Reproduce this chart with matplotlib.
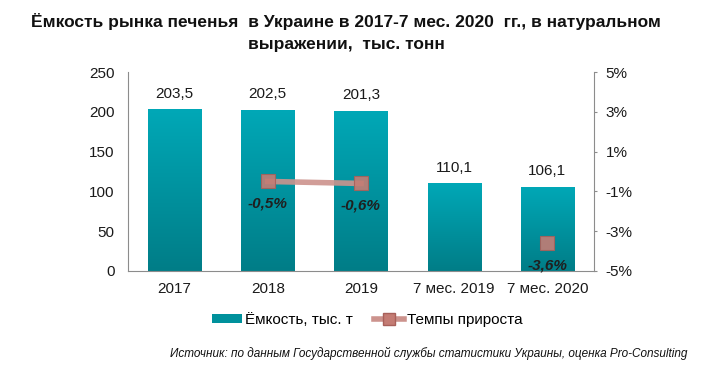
import matplotlib
matplotlib.use("Agg")
import matplotlib.pyplot as plt
import numpy as np
from matplotlib.colors import LinearSegmentedColormap
from matplotlib.patches import Patch
from matplotlib.lines import Line2D

plt.rcParams['font.family'] = ['Liberation Sans', 'DejaVu Sans']

categories = ["2017", "2018", "2019", "7 мес. 2019", "7 мес. 2020"]
capacity = [203.5, 202.5, 201.3, 110.1, 106.1]
capacity_labels = ["203,5", "202,5", "201,3", "110,1", "106,1"]
growth = [np.nan, -0.5, -0.6, np.nan, -3.6]
growth_labels = ["", "-0,5%", "-0,6%", "", "-3,6%"]
left_ticks = [0, 50, 100, 150, 200, 250]
right_ticks = [-5, -3, -1, 1, 3, 5]
right_tick_labels = ["-5%", "-3%", "-1%", "1%", "3%", "5%"]

fig = plt.figure(figsize=(7.1, 3.81), dpi=100)
ax = fig.add_axes([128/710, 1-271/381, (594-128)/710, (271-72)/381])
ax2 = ax.twinx()

x = np.arange(len(categories))
bars = ax.bar(x, capacity, width=0.57, color="#009AA6", zorder=2, label="Ёмкость, тыс. т")

cmap = LinearSegmentedColormap.from_list("teal", ["#00A8B7", "#007D87"])
grad = np.linspace(0, 1, 256).reshape(-1, 1)
for b in bars:
    bx, by = b.get_x(), b.get_y()
    w, h = b.get_width(), b.get_height()
    im = ax.imshow(grad, extent=[bx, bx + w, by, by + h], aspect="auto",
                   cmap=cmap, origin="upper", zorder=2.5)
    im.set_clip_path(b)
    b.set_facecolor("none")

for xi, v, lab in zip(x, capacity, capacity_labels):
    ax.annotate(lab, (xi, v), xytext=(0, 6), textcoords="offset points",
                ha="center", va="bottom", fontsize=11, color="#1a1a1a")

ax.set_xlim(-0.5, len(categories) - 0.5)
ax.set_ylim(0, 250)
ax.set_yticks(left_ticks)
ax.set_yticklabels([str(t) for t in left_ticks])
ax.set_xticks(x)
ax.set_xticklabels(categories)
ax.tick_params(axis="y", length=0, pad=9.5, labelsize=11, colors="#1a1a1a")
ax.tick_params(axis="x", length=0, pad=8, labelsize=11, colors="#1a1a1a")
for s in ["top", "right"]:
    ax.spines[s].set_visible(False)
for s in ["left", "bottom"]:
    ax.spines[s].set_color("#8c8c8c")

ax2.plot(x, growth, color="#CC938D", lw=4, alpha=0.9, marker="s", markersize=10,
         markerfacecolor="#C47C74", markeredgecolor="#A8605A", markeredgewidth=0.8,
         zorder=5, label="Темпы прироста")
for xi, v, lab in zip(x, growth, growth_labels):
    if lab:
        ax2.annotate(lab, (xi, v), xytext=(0, -11), textcoords="offset points",
                     ha="center", va="top", fontsize=11, fontweight="bold",
                     fontstyle="italic", color="#1f1f1f")
ax2.set_ylim(-5, 5)
ax2.set_yticks(right_ticks)
ax2.set_yticklabels(right_tick_labels)
ax2.tick_params(axis="y", length=2.5, pad=6, labelsize=11, colors="#1a1a1a", color="#8c8c8c")
for s in ["top", "left", "bottom"]:
    ax2.spines[s].set_visible(False)
ax2.spines["right"].set_color("#8c8c8c")
ax.set_zorder(1)
ax2.set_zorder(2)
ax2.patch.set_visible(False)

fig.text(346/710, 1-21/381, "Ёмкость рынка печенья  в Украине в 2017-7 мес. 2020  гг., в натуральном",
         ha="center", va="center", fontsize=12.5, fontweight="bold", color="#111111")
fig.text(346/710, 1-45/381, "выражении,  тыс. тонн",
         ha="center", va="center", fontsize=12.5, fontweight="bold", color="#111111")

handles = [Patch(facecolor="#00919C", edgecolor="none"),
           Line2D([0], [0], color="#CC938D", lw=4, marker="s", markersize=8,
                  markerfacecolor="#C47C74", markeredgecolor="#A8605A")]
fig.legend(handles, ["Ёмкость, тыс. т", "Темпы прироста"], loc="center",
           bbox_to_anchor=(367/710, 1-320/381), ncol=2, frameon=False, fontsize=11,
           handlelength=2.0, handleheight=0.5, columnspacing=1.4, handletextpad=0.15)

fig.text(687/710, 1-353/381,
         "Источник: по данным Государственной службы статистики Украины, оценка Pro-Consulting",
         ha="right", va="center", fontsize=8.5, fontstyle="italic", color="#111111")

fig.savefig("out.png", dpi=100)
